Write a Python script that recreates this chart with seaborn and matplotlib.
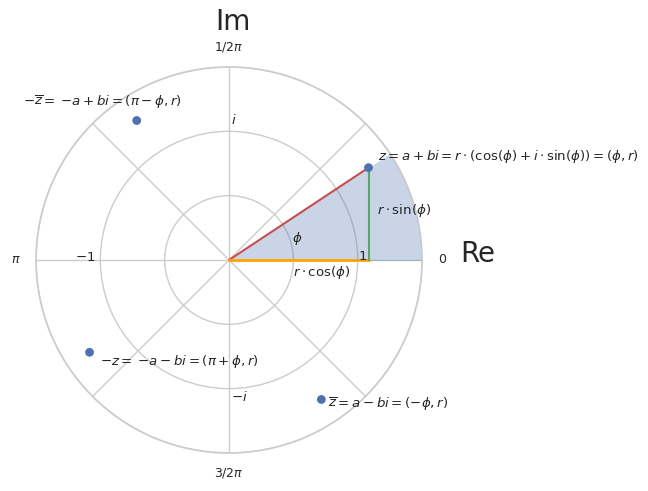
import numpy as np
import matplotlib
matplotlib.use("Agg")
import matplotlib.pyplot as plt
import seaborn as sns

# values
r_val = 1.3
phi_deg = 33.5
point_theta_deg = [33.5, 123.5, 213.5, 303.5]
point_r = [1.3, 1.3, 1.3, 1.3]
r_max = 1.5
r_grid = [0.5, 1.0, 1.5]
theta_grid_deg = [0, 45, 90, 135, 180, 225, 270, 315]
theta_labels = ["0", "", r"$1/2\pi$", "", r"$\pi$", "", r"$3/2\pi$", ""]

sns.set_theme(style="whitegrid")

fig = plt.figure(figsize=(6.48, 4.91), dpi=100)
ax = fig.add_axes([0.0556, 0.0774, 0.5957, 0.7862], projection="polar")

phi = np.deg2rad(phi_deg)
theta_pts = np.deg2rad(point_theta_deg)

# shaded wedge from 0 to phi
wedge = np.linspace(0, phi, 100)
ax.fill_between(wedge, 0, r_max, color=sns.color_palette()[0], alpha=0.3, lw=0)

# r, r*cos, r*sin
ax.plot([0, phi], [0, r_val], color=sns.color_palette()[3], lw=1.5)
ax.plot([0, 0], [0, r_val * np.cos(phi)], color="orange", lw=2)
ax.plot([0, phi], [r_val * np.cos(phi), r_val], color=sns.color_palette()[2], lw=1.5)

sns.scatterplot(x=theta_pts, y=point_r, ax=ax, s=40, color=sns.color_palette()[0],
                edgecolor="none", zorder=5)

ax.set_rlim(0, r_max)
ax.set_rticks(r_grid)
ax.set_yticklabels([])
ax.set_thetagrids(theta_grid_deg, labels=theta_labels, fontsize=9)
ax.tick_params(axis="x", pad=1.5)

def put(deg, rr, s):
    ax.text(np.deg2rad(deg), rr, s, ha="left", va="center", fontsize=9.6)

put(34.7, 1.407, r"$z = a + bi = r\cdot(\cos(\phi) + i\cdot\sin(\phi)) = (\phi, r)$")
put(142.6, 2.015, r"$-\overline{z} = \:-a + bi = (\pi - \phi, r)$")
put(218.25, 1.276, r"$-z = \:-a - bi = (\pi + \phi, r)$")
put(-55.5, 1.358, r"$\overline{z} = a - bi = (-\phi, r)$")
put(18.45, 1.21, r"$r\cdot\sin(\phi)$")
put(-11.1, 0.504, r"$r\cdot\cos(\phi)$")
put(19.1, 0.515, r"$\phi$")
put(1.69, 1.003, r"$1$")
put(179.2, 1.196, r"$-1$")
put(89.2, 1.088, r"$i$")
put(-89.2, 1.065, r"$-i$")

fig.text(232.5 / 648, 1 - 30 / 491, "Im", ha="center", va="baseline", fontsize=20)
fig.text(460.7 / 648, 1 - 262 / 491, "Re", ha="left", va="baseline", fontsize=20)

fig.savefig("out.png", dpi=100)
